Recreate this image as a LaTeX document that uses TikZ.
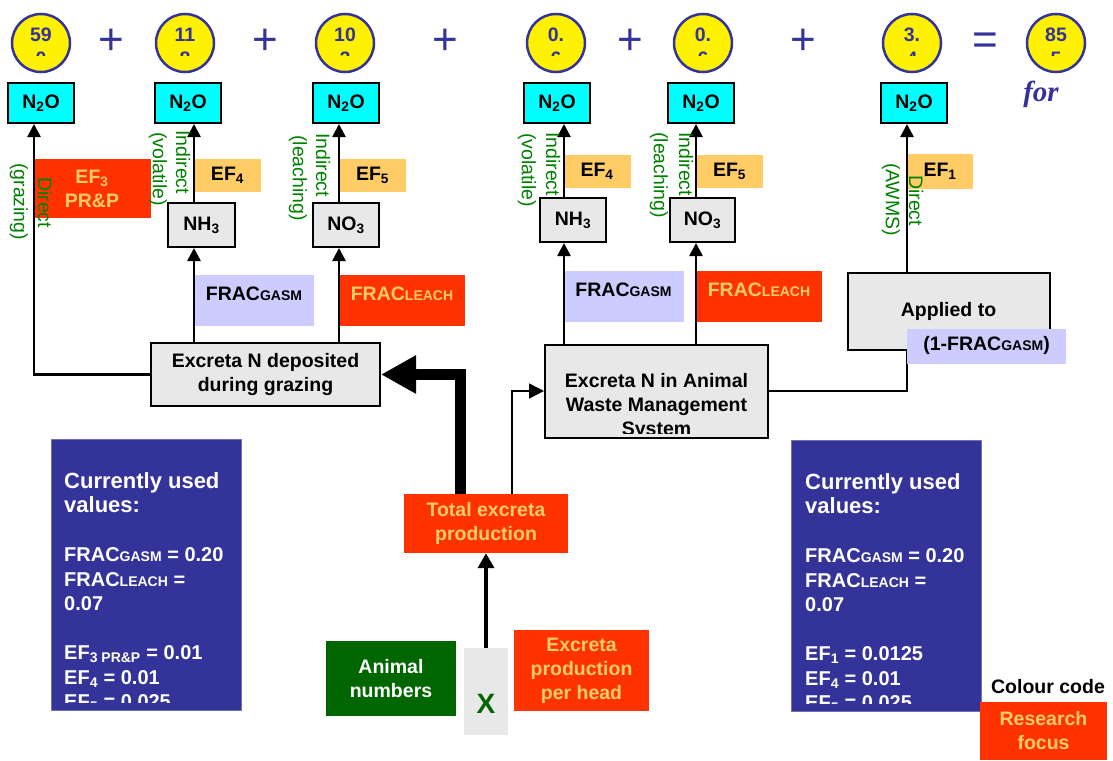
\documentclass[tikz,border=0pt]{standalone}
\usepackage{fontspec}
\setmainfont{Liberation Sans}
\newfontfamily\serifface{Liberation Serif}
\usetikzlibrary{arrows.meta}

\definecolor{navy}{HTML}{333399}
\definecolor{focusred}{HTML}{FF3300}
\definecolor{focustext}{HTML}{FFCC66}
\definecolor{efgold}{HTML}{FFCC66}
\definecolor{lavender}{HTML}{CCCCFF}
\definecolor{boxgrey}{HTML}{E8E8E8}
\definecolor{labelgreen}{HTML}{008000}
\definecolor{darkgreen}{HTML}{006600}
\definecolor{moleculecyan}{HTML}{00FFFF}

\newcommand{\capsub}[1]{{\fontsize{14}{14}\selectfont #1}}

\tikzset{
        result/.style = {circle, draw=navy, line width=2.5pt, fill=yellow, minimum size=58pt, inner sep=0pt},
        resnum/.style = {anchor=base, text=navy, inner sep=0pt},
        opsign/.style = {anchor=base, text=navy, inner sep=0pt, font=\mdseries\fontsize{44}{44}\selectfont},
        molbox/.style = {draw, line width=2pt, fill=moleculecyan, minimum width=66pt, minimum height=40pt, inner sep=0pt},
        gasbox/.style = {draw, line width=2pt, fill=boxgrey, minimum height=44pt, inner sep=0pt},
        efbox/.style = {fill=efgold, minimum height=33pt, inner sep=0pt},
        fracbox/.style = {minimum height=51pt, inner sep=0pt, text height=14pt, text depth=14pt},
        focusbox/.style = {fill=focusred, text=focustext, inner sep=0pt, align=center},
        poolbox/.style = {draw, line width=2pt, fill=boxgrey, inner sep=0pt, align=center},
        valuebox/.style = {fill=navy, draw=navy!70, line width=1pt, minimum width=190pt, minimum height=271pt},
        valuetext/.style = {anchor=north west, align=left, inner sep=0pt, text=white, font=\bfseries\fontsize{20}{24.5}\selectfont},
        pathlabel/.style = {rotate=-90, anchor=west, inner sep=0pt, text=labelgreen, font=\fontsize{19.5}{22}\selectfont},
        flow/.style = {line width=2.5pt, -{Triangle[length=13pt,width=13pt]}}
}

\begin{document}
\begin{tikzpicture}[x=1pt, y=-1pt, font=\bfseries\fontsize{19.5}{24}\selectfont]
        \useasboundingbox (0,0) rectangle (1113,760);

        \node [result] (r1) at (41,43) {};
        \node [result] (r2) at (185,43) {};
        \node [result] (r3) at (345,43) {};
        \node [result] (r4) at (556,43) {};
        \node [result] (r5) at (703,43) {};
        \node [result] (r6) at (912,43) {};
        \node [result] (r7) at (1056,43) {};
        \begin{scope}
                \clip (0,0) rectangle (1113,56);
                \node [resnum] (r1a) at (41,42) {59};
                \node [resnum] (r1b) at (41,66) {0};
                \node [resnum] (r2a) at (185,42) {11};
                \node [resnum] (r2b) at (185,66) {8};
                \node [resnum] (r3a) at (345,42) {10};
                \node [resnum] (r3b) at (345,66) {2};
                \node [resnum] (r4a) at (556,42) {0.};
                \node [resnum] (r4b) at (556,66) {6};
                \node [resnum] (r5a) at (703,42) {0.};
                \node [resnum] (r5b) at (703,66) {6};
                \node [resnum] (r6a) at (912,42) {3.};
                \node [resnum] (r6b) at (912,66) {4};
                \node [resnum] (r7a) at (1056,42) {85};
                \node [resnum] (r7b) at (1056,66) {5};
        \end{scope}

        \node [opsign] (plus1) at (111,55) {+};
        \node [opsign] (plus2) at (265,55) {+};
        \node [opsign] (plus3) at (445,55) {+};
        \node [opsign] (plus4) at (630,55) {+};
        \node [opsign] (plus5) at (803,55) {+};
        \node [opsign] (equals) at (985,55) {=};
        \node [anchor=base, text=navy, inner sep=0pt, font=\serifface\bfseries\itshape\fontsize{29}{29}\selectfont] (unit) at (1041,101) {for};

        \node [molbox] (n2o1) at (41,103) {N\textsubscript{2}O};
        \node [molbox] (n2o2) at (188,103) {N\textsubscript{2}O};
        \node [molbox] (n2o3) at (346,103) {N\textsubscript{2}O};
        \node [molbox] (n2o4) at (557,103) {N\textsubscript{2}O};
        \node [molbox] (n2o5) at (701,103) {N\textsubscript{2}O};
        \node [molbox] (n2o6) at (914,103) {N\textsubscript{2}O};

        \coordinate (c1) at (34,0);
        \coordinate (c2) at (194,0);
        \coordinate (c3) at (339,0);
        \coordinate (c4) at (564,0);
        \coordinate (c5) at (696,0);
        \coordinate (c6) at (907,0);

        \node [focusbox, minimum width=118pt, minimum height=59pt] (ef3) at (92,188.5) {EF\textsubscript{3}\\PR\&P};
        \node [efbox, minimum width=67pt] (ef4a) at (227.5,175) {EF\textsubscript{4}};
        \node [efbox, minimum width=67pt] (ef5a) at (372.5,175.5) {EF\textsubscript{5}};
        \node [gasbox, minimum width=67pt] (nh3a) at (201.5,225) {NH\textsubscript{3}};
        \node [gasbox, minimum width=66pt] (no3a) at (346,225) {NO\textsubscript{3}};
        \node [fracbox, fill=lavender, minimum width=120pt] (gasma) at (254,300.5) {FRAC\capsub{GASM}};
        \node [fracbox, focusbox, minimum width=126pt] (leacha) at (402,300.5) {FRAC\capsub{LEACH}};
        \node [poolbox, minimum width=229pt, minimum height=63pt] (dep) at (265.5,374.5) {Excreta N deposited\\during grazing};

        \node [efbox, minimum width=67pt] (ef4b) at (597,171) {EF\textsubscript{4}};
        \node [efbox, minimum width=67pt] (ef5b) at (729.5,171.5) {EF\textsubscript{5}};
        \node [efbox, minimum width=66pt, minimum height=35pt] (ef1) at (940,171.5) {EF\textsubscript{1}};
        \node [gasbox, minimum width=66pt] (nh3b) at (573,220) {NH\textsubscript{3}};
        \node [gasbox, minimum width=65pt] (no3b) at (702.5,220) {NO\textsubscript{3}};
        \node [fracbox, fill=lavender, minimum width=121pt] (gasmb) at (623.5,296.5) {FRAC\capsub{GASM}};
        \node [fracbox, focusbox, minimum width=126pt] (leachb) at (759,296.5) {FRAC\capsub{LEACH}};
        \node [poolbox, minimum width=202pt, minimum height=77pt] (applied) at (948.5,311.5) {Applied to};
        \node [poolbox, minimum width=223pt, minimum height=93pt] (awms) at (656.5,391) {};
        \begin{scope}
                \clip (awms.north west) rectangle ([yshift=5pt]awms.south east);
                \node [align=center, inner sep=0pt] (awmstext) at ([yshift=-15pt]awms.center) {Excreta N in Animal\\Waste Management\\System};
        \end{scope}

        \node [valuebox] (valleft) at (146,574.5) {};
        \begin{scope}
                \clip (51,439) rectangle (241,702);
                \node [valuetext] (vallefttext) at (64,472) {{\fontsize{22}{24.5}\selectfont Currently used}\\{\fontsize{22}{24.5}\selectfont values:}\\[24.5pt]FRAC\capsub{GASM} = 0.20\\FRAC\capsub{LEACH} =\\0.07\\[24.5pt]EF\textsubscript{3 PR\&P} = 0.01\\EF\textsubscript{4} = 0.01\\EF\textsubscript{5} = 0.025};
        \end{scope}
        \node [valuebox] (valright) at (886.5,575.5) {};
        \begin{scope}
                \clip (791,440) rectangle (982,703);
                \node [valuetext] (valrighttext) at (805,473) {{\fontsize{22}{24.5}\selectfont Currently used}\\{\fontsize{22}{24.5}\selectfont values:}\\[24.5pt]FRAC\capsub{GASM} = 0.20\\FRAC\capsub{LEACH} =\\0.07\\[24.5pt]EF\textsubscript{1} = 0.0125\\EF\textsubscript{4} = 0.01\\EF\textsubscript{5} = 0.025};
        \end{scope}

        \node [focusbox, minimum width=164pt, minimum height=59pt] (total) at (486,523.5) {Total excreta\\production};
        \node [fill=darkgreen, text=white, align=center, inner sep=0pt, minimum width=130pt, minimum height=75pt] (animals) at (391,678.5) {Animal\\numbers};
        \node [fill=boxgrey, inner sep=0pt, minimum width=44pt, minimum height=87pt] (xbox) at (486,691.5) {};
        \node [text=darkgreen, inner sep=0pt, font=\bfseries\fontsize{28}{28}\selectfont] (times) at (486,704) {X};
        \node [focusbox, minimum width=135pt, minimum height=81pt] (perhead) at (581.5,670.5) {Excreta\\production\\per head};
        \node [anchor=base, inner sep=0pt] (legendtitle) at (1048,693) {Colour code};
        \node [focusbox, minimum width=127pt, minimum height=58pt] (legendfocus) at (1043.5,731) {Research\\focus};

        \draw [flow] (dep.west) -| (c1 |- n2o1.south);
        \draw [flow] (dep.north -| c2) -- (nh3a.south -| c2);
        \draw [flow] (nh3a.north -| c2) -- (n2o2.south -| c2);
        \draw [flow] (dep.north -| c3) -- (no3a.south -| c3);
        \draw [flow] (no3a.north -| c3) -- (n2o3.south -| c3);
        \draw [flow] (awms.north -| c4) -- (nh3b.south -| c4);
        \draw [flow] (nh3b.north -| c4) -- (n2o4.south -| c4);
        \draw [flow] (awms.north -| c5) -- (no3b.south -| c5);
        \draw [flow] (no3b.north -| c5) -- (n2o5.south -| c5);
        \draw [flow] (applied.north -| c6) -- (n2o6.south -| c6);
        \draw [line width=2pt] (awms.east) -| (applied.south -| c6);
        \draw [line width=11pt, -{Triangle[length=35pt,width=36pt]}] ([xshift=-26pt]total.north) |- (dep.east);
        \draw [line width=1.5pt, -{Triangle[length=15pt,width=15pt]}] ([xshift=26pt]total.north) |- (awms.west);
        \draw [line width=4pt, -{Triangle[length=15pt,width=16pt]}] (xbox.north) -- (total.south);

        \node [fracbox, fill=lavender, minimum width=159pt, minimum height=35pt, text height=12pt, text depth=4pt] (fracone) at (986.5,346.5) {(1-FRAC\capsub{GASM})};

        \node [pathlabel] (lab1a) at (45,177) {Direct};
        \node [pathlabel] (lab1b) at (19,163) {(grazing)};
        \node [pathlabel] (lab2a) at (183,130) {Indirect};
        \node [pathlabel] (lab2b) at (158,132) {(volatile)};
        \node [pathlabel] (lab3a) at (323,133) {Indirect};
        \node [pathlabel] (lab3b) at (298,135) {(leaching)};
        \node [pathlabel] (lab4a) at (553,132) {Indirect};
        \node [pathlabel] (lab4b) at (527,133) {(volatile)};
        \node [pathlabel] (lab5a) at (686,132) {Indirect};
        \node [pathlabel] (lab5b) at (659,132) {(leaching)};
        \node [pathlabel] (lab6a) at (916,175) {Direct};
        \node [pathlabel] (lab6b) at (891,163) {(AWMS)};

\end{tikzpicture}
\end{document}
